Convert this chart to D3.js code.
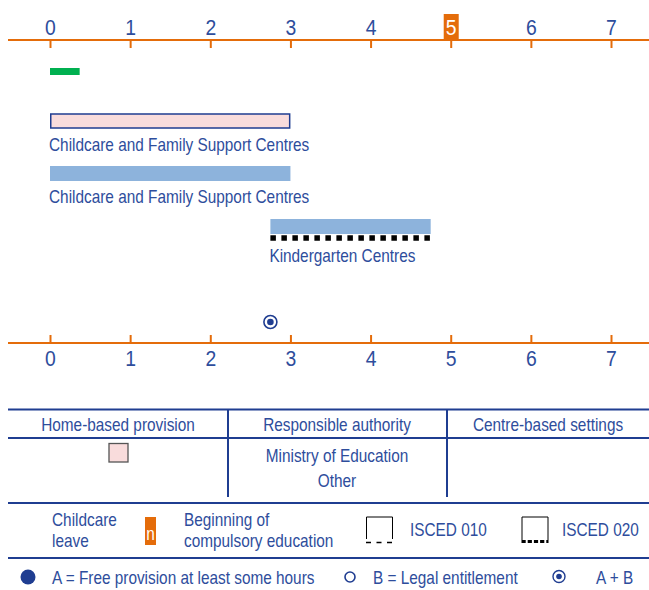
<!DOCTYPE html>
<html>
<head>
<meta charset="utf-8">
<script src="https://cdn.jsdelivr.net/npm/d3@7"></script>
<style>
  body { margin: 0; background: #fff; }
  text { font-family: "Liberation Sans", Arial, sans-serif; }
</style>
</head>
<body>
<script>
const svgWidth = 649
const svgHeight = 590

// ages in years
const ageTicks = [0, 1, 2, 3, 4, 5, 6, 7]
const compulsoryAge = 5
const leaveStart = [0]
const leaveEnd = [0.37]

const barLabels = ["Childcare and Family Support Centres", "Childcare and Family Support Centres", "Kindergarten Centres"]
const barStart = [0, 0, 2.75]
const barEnd = [3, 3, 4.75]
const barKind = ["home", "centre", "centre"]
const barIsced = ["", "", "020"]

const entitlementAge = [2.75]
const entitlementType = ["AB"]

const tableHeaders = ["Home-based provision", "Responsible authority", "Centre-based settings"]
const authorities = ["Ministry of Education", "Other"]

const orange = "#e46c0a"
const navy = "#1f3d91"
const textBlue = "#2e4d9c"
const fills = { home: "#f9dcdc", centre: "#8db3dc" }
const fontSize = "18.5px"

const svg = d3.select("body").append("svg")
    .attr("width", svgWidth)
    .attr("height", svgHeight)

const x = d3.scaleLinear()
    .domain([0, 7])
    .range([50, 611])

// top axis
const topG = svg.append("g")
    .attr("transform", "translate(0, 40)")
topG.call(d3.axisTop(x).tickValues(ageTicks).tickSizeInner(-8).tickSizeOuter(0).tickPadding(5).tickFormat(d3.format("d")))
topG.select(".domain").remove()
topG.append("line")
    .attr("x1", 8).attr("x2", svgWidth)
    .attr("stroke", orange).attr("stroke-width", 2)
topG.selectAll(".tick line").attr("stroke", orange).attr("stroke-width", 2)
topG.selectAll(".tick text").style("fill", textBlue).style("font-size", "22px").attr("font-family", null).classed("digit", true)
topG.selectAll(".tick").filter(d => d === compulsoryAge)
    .insert("rect", "text")
    .attr("x", -7.5).attr("y", -26).attr("width", 15).attr("height", 26)
    .attr("fill", orange)
topG.selectAll(".tick").filter(d => d === compulsoryAge).select("text").style("fill", "#fff")

// childcare leave
svg.selectAll("rect.leave")
    .data(leaveStart)
    .enter()
    .append("rect")
    .classed("leave", true)
    .attr("x", (d, i) => x(d))
    .attr("y", 68)
    .attr("width", (d, i) => x(leaveEnd[i]) - x(d))
    .attr("height", 7)
    .attr("fill", "#00b050")

// provision bars
const rowTop = [114, 166, 219]
const bars = barLabels.map((label, i) => ({ label, start: barStart[i], end: barEnd[i], kind: barKind[i], isced: barIsced[i], top: rowTop[i] }))

const barG = svg.selectAll("g.bar")
    .data(bars)
    .enter()
    .append("g")
    .classed("bar", true)

barG.append("rect")
    .attr("x", d => x(d.start) + (d.kind === "home" ? 0.75 : 0))
    .attr("y", d => d.top)
    .attr("width", d => x(d.end) - x(d.start) - (d.kind === "home" ? 1.5 : 0))
    .attr("height", d => d.kind === "home" ? 14 : 15)
    .attr("fill", d => fills[d.kind])
    .attr("stroke", d => d.kind === "home" ? navy : "none")
    .attr("stroke-width", 1.5)

barG.filter(d => d.isced === "020")
    .append("line")
    .attr("x1", d => x(d.start))
    .attr("x2", d => x(d.end))
    .attr("y1", d => d.top + 19)
    .attr("y2", d => d.top + 19)
    .attr("stroke", "#000")
    .attr("stroke-width", 5.5)
    .attr("stroke-dasharray", "5.5,5.5")

barG.append("text")
    .attr("x", d => x(d.start) - 1)
    .attr("y", d => d.top + (d.isced ? 43 : 37))
    .style("font-size", fontSize)
    .text(d => d.label)

// entitlement markers
const markG = svg.selectAll("g.mark")
    .data(entitlementAge)
    .enter()
    .append("g")
    .classed("mark", true)
    .attr("transform", d => `translate(${x(d)}, 322)`)
markG.append("circle").attr("r", 6.5).attr("fill", "#fff").attr("stroke", navy).attr("stroke-width", 1.6)
markG.filter((d, i) => entitlementType[i] === "AB")
    .append("circle").attr("r", 3.3).attr("fill", navy)

// bottom axis
const botG = svg.append("g")
    .attr("transform", "translate(0, 343)")
botG.call(d3.axisBottom(x).tickValues(ageTicks).tickSizeInner(-8).tickSizeOuter(0).tickPadding(7).tickFormat(d3.format("d")))
botG.select(".domain").remove()
botG.append("line")
    .attr("x1", 8).attr("x2", svgWidth)
    .attr("stroke", orange).attr("stroke-width", 2)
botG.selectAll(".tick line").attr("stroke", orange).attr("stroke-width", 2)
botG.selectAll(".tick text").style("fill", textBlue).style("font-size", "22px").attr("font-family", null).classed("digit", true)

// legend table
const hline = y => svg.append("line").attr("x1", 8).attr("x2", svgWidth).attr("y1", y).attr("y2", y)
    .attr("stroke", navy).attr("stroke-width", 2.2)
hline(409.5)
hline(438)
hline(503)
hline(558)
;[228, 447].forEach(vx => svg.append("line").attr("x1", vx).attr("x2", vx).attr("y1", 409).attr("y2", 497)
    .attr("stroke", navy).attr("stroke-width", 2))

const colCenters = [118, 337, 548]
svg.selectAll("text.head")
    .data(tableHeaders)
    .enter()
    .append("text")
    .attr("x", (d, i) => colCenters[i])
    .attr("y", 431)
    .attr("text-anchor", "middle")
    .style("font-size", fontSize)
    .text(d => d)

svg.append("rect")
    .attr("x", 109).attr("y", 443.5).attr("width", 19).attr("height", 18.5)
    .attr("fill", fills.home).attr("stroke", "#555").attr("stroke-width", 1.3)

svg.selectAll("text.auth")
    .data(authorities)
    .enter()
    .append("text")
    .attr("x", colCenters[1])
    .attr("y", (d, i) => 461.5 + i * 25.5)
    .attr("text-anchor", "middle")
    .style("font-size", fontSize)
    .text(d => d)

// legend row 1
const legText = (tx, ty, s, anchor) => svg.append("text").attr("x", tx).attr("y", ty)
    .attr("text-anchor", anchor || "start").style("font-size", fontSize).text(s)
legText(52, 526, "Childcare")
legText(52, 547, "leave")
svg.append("rect").attr("x", 145).attr("y", 517).attr("width", 11).attr("height", 28).attr("fill", orange)
svg.append("text").attr("x", 150.5).attr("y", 540).attr("text-anchor", "middle")
    .style("font-size", fontSize).classed("white", true).text("n")
legText(184, 526, "Beginning of")
legText(184, 547, "compulsory education")

const iscedIcon = (ix, w, sideEnd, lineY, dash, sw) => {
  svg.append("path")
    .attr("d", `M${ix},${sideEnd}V517H${ix + w}V${sideEnd}`)
    .attr("fill", "none").attr("stroke", "#000").attr("stroke-width", 1)
  svg.append("line")
    .attr("x1", ix - 0.5).attr("x2", ix + w + 0.5).attr("y1", lineY).attr("y2", lineY)
    .attr("stroke", "#000").attr("stroke-width", sw).attr("stroke-dasharray", dash)
}
iscedIcon(366.5, 26, 539, 542.5, "5,5.5", 1.5)
legText(410, 536, "ISCED 010")
iscedIcon(522, 26, 540, 541.5, "4.2,2", 3)
legText(562, 536, "ISCED 020")

// legend row 2
svg.append("circle").attr("cx", 28).attr("cy", 577).attr("r", 7.5).attr("fill", navy)
legText(52, 584, "A = Free provision at least some hours")
svg.append("circle").attr("cx", 350).attr("cy", 577).attr("r", 5).attr("fill", "#fff").attr("stroke", navy).attr("stroke-width", 1.6)
legText(373, 584, "B = Legal entitlement")
svg.append("circle").attr("cx", 559).attr("cy", 576.5).attr("r", 6).attr("fill", "#fff").attr("stroke", navy).attr("stroke-width", 1.4)
svg.append("circle").attr("cx", 559).attr("cy", 576.5).attr("r", 2.8).attr("fill", navy)
legText(596, 584, "A + B")

// text colour and narrow look (no condensed font installed)
svg.selectAll("text:not(.digit)").style("fill", textBlue)
svg.selectAll("text.white").style("fill", "#fff")
svg.selectAll("text").each(function() {
  const f = d3.select(this).classed("digit") ? 0.88 : 0.83
  const w = this.getComputedTextLength()
  d3.select(this).attr("textLength", w * f).attr("lengthAdjust", "spacingAndGlyphs")
})
</script>
</body>
</html>
